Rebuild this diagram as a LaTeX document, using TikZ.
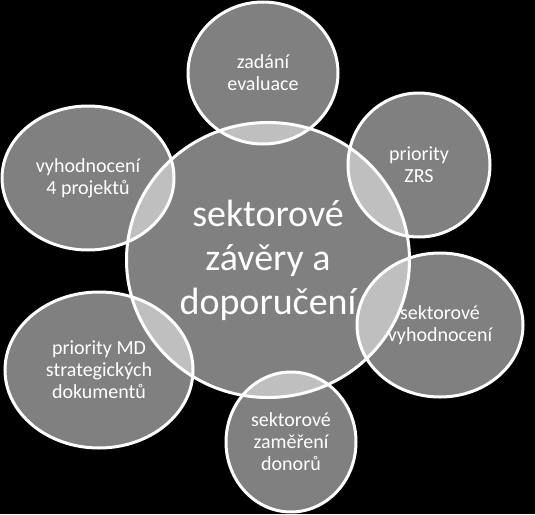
\documentclass[tikz,border=0pt]{standalone}
\usepackage{fontspec}
\setmainfont{Carlito}
\usetikzlibrary{shapes,positioning}
\tikzstyle{bubble} = [draw=white, ellipse, line width=3pt, fill=white,
    fill opacity=0.5, text opacity=1, text=white, align=center,
    inner sep=0pt, font=\fontsize{20}{22}\selectfont]

\begin{document}
\begin{tikzpicture}[x=1pt, y=-1pt]
  \fill [black] (0,0) rectangle (535,514);
  \useasboundingbox (0,0) rectangle (535,514);
  \node [bubble, minimum width=283pt, minimum height=275pt,
    font=\fontsize{38}{44}\selectfont] (zaver) at (268,260)
  {sektorové\\závěry a\\doporučení};
  \node [bubble, minimum width=150pt, minimum height=142pt] (zadani) at (263,73)
  {zadání\\evaluace};
  \node [bubble, minimum width=142pt, minimum height=144pt] (zrs) at (419,165)
  {priority\\ZRS};
  \node [bubble, minimum width=172pt, minimum height=144pt] (projekty) at (88,178)
  {vyhodnocení\\4 projektů};
  \node [bubble, minimum width=166pt, minimum height=144pt] (vyhodnoceni) at (440,325)
  {sektorové\\vyhodnocení};
  \node [bubble, minimum width=188pt, minimum height=156pt] (dokumenty) at (99,370)
  {priority MD\\strategických\\dokumentů};
  \node [bubble, minimum width=130pt, minimum height=140pt] (donori) at (291,442)
  {sektorové\\zaměření\\donorů};
\end{tikzpicture}
\end{document}
